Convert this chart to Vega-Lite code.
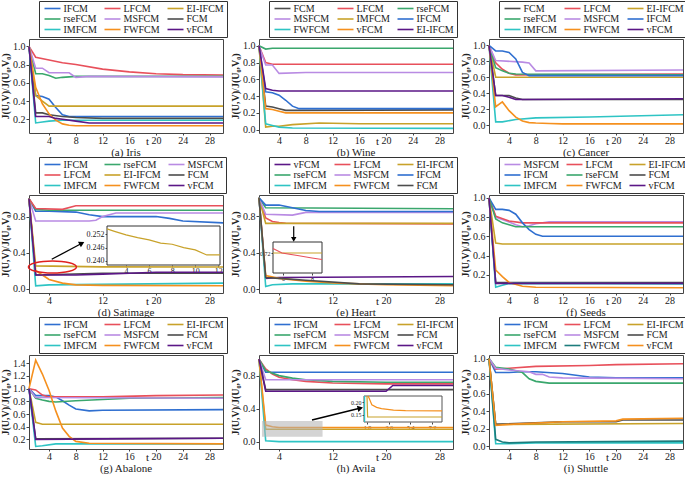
{
"$schema":"https://vega.github.io/schema/vega-lite/v6.json",
"padding":{"left":0,"top":0,"right":0,"bottom":0},
"autosize":{"type":"pad"},
"bounds":"flush",
"config":{
 "font":"Liberation Serif",
 "view":{"stroke":"#444","strokeWidth":1},
 "axis":{"grid":false,"domain":false,"tickSize":3,"tickColor":"#444","labelFont":"Liberation Serif","titleFont":"Liberation Serif","labelFontSize":10,"labelColor":"#222","labelPadding":1,"titleColor":"#222"},
 "axisY":{"titleFontSize":10,"titleFontWeight":"bold","titlePadding":2,"format":".1f"},
 "axisX":{"titleFontSize":11,"titleFontWeight":"normal","titleBaseline":"top","titleY":2,"titleX":118,"titleAlign":"center","labelPadding":0,"tickSize":2},
 "legend":{"orient":"none","legendX":10,"legendY":-38,"columns":3,"gridAlign":"none","direction":"horizontal","symbolType":"M-0.5,0H3.5","symbolSize":64,"symbolStrokeWidth":2.5,"labelFont":"Liberation Serif","labelFontSize":10,"labelColor":"#222","rowPadding":0.5,"columnPadding":3,"padding":2.5,"strokeColor":"#333","fillColor":"white","title":null,"labelLimit":80,"labelOffset":12},
 "title":{"font":"Liberation Serif","fontSize":11,"fontWeight":"normal","offset":1,"color":"#222"},
 "line":{"strokeWidth":1.6,"clip":true}
},
"resolve":{"scale":{"color":"independent","x":"independent","y":"independent"},"legend":{"color":"independent"}},
"columns":3,
"spacing":{"row":62,"column":36},
"datasets":{
"iris":[
{"s":"IFCM","t":1,"v":1},{"s":"IFCM","t":2,"v":0.46},{"s":"IFCM","t":3,"v":0.45},{"s":"IFCM","t":4,"v":0.42},{"s":"IFCM","t":5,"v":0.33},{"s":"IFCM","t":6,"v":0.25},{"s":"IFCM","t":7,"v":0.23},{"s":"IFCM","t":30,"v":0.23},
{"s":"LFCM","t":1,"v":1},{"s":"LFCM","t":2,"v":0.88},{"s":"LFCM","t":4,"v":0.85},{"s":"LFCM","t":6,"v":0.82},{"s":"LFCM","t":8,"v":0.8},{"s":"LFCM","t":12,"v":0.75},{"s":"LFCM","t":16,"v":0.72},{"s":"LFCM","t":20,"v":0.7},{"s":"LFCM","t":24,"v":0.69},{"s":"LFCM","t":30,"v":0.685},
{"s":"EI-IFCM","t":1,"v":1},{"s":"EI-IFCM","t":2,"v":0.46},{"s":"EI-IFCM","t":3,"v":0.4},{"s":"EI-IFCM","t":4,"v":0.345},{"s":"EI-IFCM","t":30,"v":0.345},
{"s":"rseFCM","t":1,"v":1},{"s":"rseFCM","t":2,"v":0.7},{"s":"rseFCM","t":3,"v":0.7},{"s":"rseFCM","t":4,"v":0.68},{"s":"rseFCM","t":5,"v":0.65},{"s":"rseFCM","t":6,"v":0.66},{"s":"rseFCM","t":8,"v":0.67},{"s":"rseFCM","t":30,"v":0.67},
{"s":"MSFCM","t":1,"v":1},{"s":"MSFCM","t":2,"v":0.76},{"s":"MSFCM","t":3,"v":0.76},{"s":"MSFCM","t":4,"v":0.71},{"s":"MSFCM","t":7,"v":0.71},{"s":"MSFCM","t":8,"v":0.66},{"s":"MSFCM","t":10,"v":0.67},{"s":"MSFCM","t":30,"v":0.665},
{"s":"FCM","t":1,"v":1},{"s":"FCM","t":2,"v":0.27},{"s":"FCM","t":3,"v":0.27},{"s":"FCM","t":4,"v":0.25},{"s":"FCM","t":6,"v":0.23},{"s":"FCM","t":8,"v":0.22},{"s":"FCM","t":12,"v":0.21},{"s":"FCM","t":30,"v":0.21},
{"s":"IMFCM","t":1,"v":1},{"s":"IMFCM","t":2,"v":0.16},{"s":"IMFCM","t":3,"v":0.17},{"s":"IMFCM","t":4,"v":0.18},{"s":"IMFCM","t":6,"v":0.19},{"s":"IMFCM","t":30,"v":0.19},
{"s":"FWFCM","t":1,"v":1},{"s":"FWFCM","t":2,"v":0.55},{"s":"FWFCM","t":3,"v":0.37},{"s":"FWFCM","t":4,"v":0.26},{"s":"FWFCM","t":5,"v":0.19},{"s":"FWFCM","t":6,"v":0.15},{"s":"FWFCM","t":7,"v":0.135},{"s":"FWFCM","t":8,"v":0.13},{"s":"FWFCM","t":30,"v":0.13},
{"s":"vFCM","t":1,"v":1},{"s":"vFCM","t":2,"v":0.23},{"s":"vFCM","t":4,"v":0.23},{"s":"vFCM","t":5,"v":0.21},{"s":"vFCM","t":6,"v":0.2},{"s":"vFCM","t":8,"v":0.18},{"s":"vFCM","t":10,"v":0.16},{"s":"vFCM","t":30,"v":0.16}
],
"wine":[
{"s":"FCM","t":1,"v":1},{"s":"FCM","t":2,"v":0.28},{"s":"FCM","t":3,"v":0.27},{"s":"FCM","t":4,"v":0.25},{"s":"FCM","t":5,"v":0.23},{"s":"FCM","t":6,"v":0.23},{"s":"FCM","t":30,"v":0.235},
{"s":"LFCM","t":1,"v":1},{"s":"LFCM","t":2,"v":0.8},{"s":"LFCM","t":3,"v":0.78},{"s":"LFCM","t":30,"v":0.78},
{"s":"rseFCM","t":1,"v":1},{"s":"rseFCM","t":2,"v":0.96},{"s":"rseFCM","t":3,"v":0.97},{"s":"rseFCM","t":30,"v":0.97},
{"s":"MSFCM","t":1,"v":1},{"s":"MSFCM","t":2,"v":0.77},{"s":"MSFCM","t":3,"v":0.77},{"s":"MSFCM","t":4,"v":0.67},{"s":"MSFCM","t":8,"v":0.68},{"s":"MSFCM","t":30,"v":0.68},
{"s":"IMFCM","t":1,"v":1},{"s":"IMFCM","t":2,"v":0.03},{"s":"IMFCM","t":3,"v":0.04},{"s":"IMFCM","t":4,"v":0.04},{"s":"IMFCM","t":6,"v":0.06},{"s":"IMFCM","t":10,"v":0.08},{"s":"IMFCM","t":16,"v":0.07},{"s":"IMFCM","t":30,"v":0.07},
{"s":"IFCM","t":1,"v":1},{"s":"IFCM","t":2,"v":0.45},{"s":"IFCM","t":3,"v":0.44},{"s":"IFCM","t":4,"v":0.41},{"s":"IFCM","t":5,"v":0.35},{"s":"IFCM","t":6,"v":0.28},{"s":"IFCM","t":7,"v":0.25},{"s":"IFCM","t":30,"v":0.25},
{"s":"FWFCM","t":1,"v":1},{"s":"FWFCM","t":2,"v":0.07},{"s":"FWFCM","t":3,"v":0.05},{"s":"FWFCM","t":4,"v":0.03},{"s":"FWFCM","t":6,"v":0.02},{"s":"FWFCM","t":30,"v":0.015},
{"s":"vFCM","t":1,"v":1},{"s":"vFCM","t":2,"v":0.25},{"s":"vFCM","t":3,"v":0.24},{"s":"vFCM","t":4,"v":0.22},{"s":"vFCM","t":5,"v":0.2},{"s":"vFCM","t":30,"v":0.2},
{"s":"EI-IFCM","t":1,"v":1},{"s":"EI-IFCM","t":2,"v":0.49},{"s":"EI-IFCM","t":3,"v":0.47},{"s":"EI-IFCM","t":4,"v":0.46},{"s":"EI-IFCM","t":30,"v":0.46}
],
"cancer":[
{"s":"FCM","t":1,"v":1},{"s":"FCM","t":2,"v":0.37},{"s":"FCM","t":4,"v":0.37},{"s":"FCM","t":5,"v":0.34},{"s":"FCM","t":6,"v":0.32},{"s":"FCM","t":30,"v":0.32},
{"s":"LFCM","t":1,"v":1},{"s":"LFCM","t":2,"v":0.78},{"s":"LFCM","t":3,"v":0.7},{"s":"LFCM","t":4,"v":0.65},{"s":"LFCM","t":5,"v":0.63},{"s":"LFCM","t":30,"v":0.64},
{"s":"EI-IFCM","t":1,"v":1},{"s":"EI-IFCM","t":2,"v":0.6},{"s":"EI-IFCM","t":30,"v":0.6},
{"s":"rseFCM","t":1,"v":1},{"s":"rseFCM","t":2,"v":0.72},{"s":"rseFCM","t":3,"v":0.68},{"s":"rseFCM","t":4,"v":0.65},{"s":"rseFCM","t":5,"v":0.64},{"s":"rseFCM","t":30,"v":0.63},
{"s":"MSFCM","t":1,"v":1},{"s":"MSFCM","t":2,"v":0.81},{"s":"MSFCM","t":6,"v":0.79},{"s":"MSFCM","t":7,"v":0.78},{"s":"MSFCM","t":8,"v":0.68},{"s":"MSFCM","t":30,"v":0.69},
{"s":"IFCM","t":1,"v":1},{"s":"IFCM","t":2,"v":0.93},{"s":"IFCM","t":3,"v":0.93},{"s":"IFCM","t":4,"v":0.91},{"s":"IFCM","t":5,"v":0.83},{"s":"IFCM","t":6,"v":0.66},{"s":"IFCM","t":7,"v":0.62},{"s":"IFCM","t":30,"v":0.62},
{"s":"IMFCM","t":1,"v":1},{"s":"IMFCM","t":2,"v":0.04},{"s":"IMFCM","t":3,"v":0.04},{"s":"IMFCM","t":5,"v":0.07},{"s":"IMFCM","t":8,"v":0.09},{"s":"IMFCM","t":16,"v":0.1},{"s":"IMFCM","t":30,"v":0.13},
{"s":"FWFCM","t":1,"v":1},{"s":"FWFCM","t":2,"v":0.23},{"s":"FWFCM","t":3,"v":0.29},{"s":"FWFCM","t":4,"v":0.18},{"s":"FWFCM","t":5,"v":0.1},{"s":"FWFCM","t":6,"v":0.05},{"s":"FWFCM","t":7,"v":0.03},{"s":"FWFCM","t":8,"v":0.025},{"s":"FWFCM","t":10,"v":0.02},{"s":"FWFCM","t":12,"v":0.015},{"s":"FWFCM","t":30,"v":0.015},
{"s":"vFCM","t":1,"v":1},{"s":"vFCM","t":2,"v":0.37},{"s":"vFCM","t":3,"v":0.37},{"s":"vFCM","t":4,"v":0.35},{"s":"vFCM","t":5,"v":0.32},{"s":"vFCM","t":6,"v":0.32},{"s":"vFCM","t":30,"v":0.33}
],
"satimage":[
{"s":"IFCM","t":1,"v":1},{"s":"IFCM","t":2,"v":0.86},{"s":"IFCM","t":4,"v":0.86},{"s":"IFCM","t":8,"v":0.85},{"s":"IFCM","t":10,"v":0.82},{"s":"IFCM","t":12,"v":0.8},{"s":"IFCM","t":20,"v":0.8},{"s":"IFCM","t":22,"v":0.78},{"s":"IFCM","t":24,"v":0.75},{"s":"IFCM","t":30,"v":0.73},
{"s":"rseFCM","t":1,"v":1},{"s":"rseFCM","t":2,"v":0.88},{"s":"rseFCM","t":4,"v":0.87},{"s":"rseFCM","t":30,"v":0.87},
{"s":"MSFCM","t":1,"v":1},{"s":"MSFCM","t":2,"v":0.75},{"s":"MSFCM","t":10,"v":0.75},{"s":"MSFCM","t":11,"v":0.76},{"s":"MSFCM","t":12,"v":0.8},{"s":"MSFCM","t":14,"v":0.84},{"s":"MSFCM","t":30,"v":0.84},
{"s":"LFCM","t":1,"v":1},{"s":"LFCM","t":2,"v":0.89},{"s":"LFCM","t":6,"v":0.88},{"s":"LFCM","t":8,"v":0.92},{"s":"LFCM","t":30,"v":0.92},
{"s":"EI-IFCM","t":1,"v":1},{"s":"EI-IFCM","t":2,"v":0.252},{"s":"EI-IFCM","t":12,"v":0.241},{"s":"EI-IFCM","t":30,"v":0.24},
{"s":"FCM","t":1,"v":1},{"s":"FCM","t":2,"v":0.15},{"s":"FCM","t":12,"v":0.17},{"s":"FCM","t":30,"v":0.17},
{"s":"IMFCM","t":1,"v":1},{"s":"IMFCM","t":2,"v":0.03},{"s":"IMFCM","t":4,"v":0.04},{"s":"IMFCM","t":30,"v":0.06},
{"s":"FWFCM","t":1,"v":1},{"s":"FWFCM","t":2,"v":0.2},{"s":"FWFCM","t":3,"v":0.15},{"s":"FWFCM","t":4,"v":0.1},{"s":"FWFCM","t":6,"v":0.06},{"s":"FWFCM","t":8,"v":0.04},{"s":"FWFCM","t":12,"v":0.035},{"s":"FWFCM","t":30,"v":0.03},
{"s":"vFCM","t":1,"v":1},{"s":"vFCM","t":2,"v":0.15},{"s":"vFCM","t":8,"v":0.15},{"s":"vFCM","t":12,"v":0.16},{"s":"vFCM","t":16,"v":0.17},{"s":"vFCM","t":20,"v":0.18},{"s":"vFCM","t":30,"v":0.18}
],
"satInset":[
{"t":2.35,"v":0.2544},{"t":3,"v":0.2533},{"t":4,"v":0.2517},{"t":5,"v":0.2505},{"t":6,"v":0.2495},{"t":7,"v":0.248},{"t":8,"v":0.2475},{"t":9,"v":0.246},{"t":10,"v":0.245},{"t":11,"v":0.2427},{"t":12.15,"v":0.2427}
],
"heart":[
{"s":"vFCM","t":1,"v":1},{"s":"vFCM","t":2,"v":0.12},{"s":"vFCM","t":4,"v":0.13},{"s":"vFCM","t":30,"v":0.14},
{"s":"LFCM","t":1,"v":1},{"s":"LFCM","t":2,"v":0.78},{"s":"LFCM","t":3,"v":0.74},{"s":"LFCM","t":4,"v":0.73},{"s":"LFCM","t":5,"v":0.722},{"s":"LFCM","t":30,"v":0.715},
{"s":"EI-IFCM","t":1,"v":1},{"s":"EI-IFCM","t":2,"v":0.72},{"s":"EI-IFCM","t":30,"v":0.72},
{"s":"rseFCM","t":1,"v":1},{"s":"rseFCM","t":2,"v":0.89},{"s":"rseFCM","t":30,"v":0.88},
{"s":"MSFCM","t":1,"v":1},{"s":"MSFCM","t":2,"v":0.82},{"s":"MSFCM","t":6,"v":0.81},{"s":"MSFCM","t":8,"v":0.84},{"s":"MSFCM","t":30,"v":0.84},
{"s":"IFCM","t":1,"v":1},{"s":"IFCM","t":2,"v":0.92},{"s":"IFCM","t":4,"v":0.92},{"s":"IFCM","t":6,"v":0.89},{"s":"IFCM","t":8,"v":0.86},{"s":"IFCM","t":10,"v":0.85},{"s":"IFCM","t":30,"v":0.85},
{"s":"IMFCM","t":1,"v":1},{"s":"IMFCM","t":2,"v":0.03},{"s":"IMFCM","t":3,"v":0.05},{"s":"IMFCM","t":6,"v":0.06},{"s":"IMFCM","t":30,"v":0.06},
{"s":"FWFCM","t":1,"v":1},{"s":"FWFCM","t":2,"v":0.15},{"s":"FWFCM","t":4,"v":0.12},{"s":"FWFCM","t":8,"v":0.09},{"s":"FWFCM","t":12,"v":0.07},{"s":"FWFCM","t":16,"v":0.06},{"s":"FWFCM","t":20,"v":0.05},{"s":"FWFCM","t":30,"v":0.04},
{"s":"FCM","t":1,"v":1},{"s":"FCM","t":2,"v":0.13},{"s":"FCM","t":4,"v":0.12},{"s":"FCM","t":8,"v":0.1},{"s":"FCM","t":16,"v":0.06},{"s":"FCM","t":30,"v":0.05}
],
"heartInset":[
{"s":"EI-IFCM","t":5.31,"v":0.72},{"s":"EI-IFCM","t":8.69,"v":0.72},
{"s":"LFCM","t":5.31,"v":0.7245},{"s":"LFCM","t":5.93,"v":0.72},{"s":"LFCM","t":7,"v":0.7175},{"s":"LFCM","t":8,"v":0.715},{"s":"LFCM","t":8.69,"v":0.7135}
],
"seeds":[
{"s":"MSFCM","t":1,"v":1},{"s":"MSFCM","t":2,"v":0.8},{"s":"MSFCM","t":4,"v":0.75},{"s":"MSFCM","t":5,"v":0.72},{"s":"MSFCM","t":6,"v":0.7},{"s":"MSFCM","t":7,"v":0.71},{"s":"MSFCM","t":8,"v":0.73},{"s":"MSFCM","t":10,"v":0.75},{"s":"MSFCM","t":30,"v":0.75},
{"s":"LFCM","t":1,"v":1},{"s":"LFCM","t":2,"v":0.81},{"s":"LFCM","t":4,"v":0.76},{"s":"LFCM","t":6,"v":0.74},{"s":"LFCM","t":30,"v":0.74},
{"s":"EI-IFCM","t":1,"v":1},{"s":"EI-IFCM","t":2,"v":0.53},{"s":"EI-IFCM","t":3,"v":0.52},{"s":"EI-IFCM","t":30,"v":0.52},
{"s":"IFCM","t":1,"v":1},{"s":"IFCM","t":2,"v":0.88},{"s":"IFCM","t":3,"v":0.88},{"s":"IFCM","t":4,"v":0.87},{"s":"IFCM","t":5,"v":0.83},{"s":"IFCM","t":6,"v":0.74},{"s":"IFCM","t":7,"v":0.67},{"s":"IFCM","t":8,"v":0.62},{"s":"IFCM","t":9,"v":0.6},{"s":"IFCM","t":30,"v":0.6},
{"s":"rseFCM","t":1,"v":1},{"s":"rseFCM","t":2,"v":0.78},{"s":"rseFCM","t":3,"v":0.74},{"s":"rseFCM","t":4,"v":0.72},{"s":"rseFCM","t":5,"v":0.7},{"s":"rseFCM","t":30,"v":0.7},
{"s":"FCM","t":1,"v":1},{"s":"FCM","t":2,"v":0.12},{"s":"FCM","t":30,"v":0.12},
{"s":"IMFCM","t":1,"v":1},{"s":"IMFCM","t":2,"v":0.07},{"s":"IMFCM","t":3,"v":0.09},{"s":"IMFCM","t":4,"v":0.11},{"s":"IMFCM","t":30,"v":0.105},
{"s":"FWFCM","t":1,"v":1},{"s":"FWFCM","t":2,"v":0.25},{"s":"FWFCM","t":3,"v":0.18},{"s":"FWFCM","t":4,"v":0.12},{"s":"FWFCM","t":6,"v":0.08},{"s":"FWFCM","t":8,"v":0.07},{"s":"FWFCM","t":30,"v":0.065},
{"s":"vFCM","t":1,"v":1},{"s":"vFCM","t":2,"v":0.11},{"s":"vFCM","t":30,"v":0.11}
],
"abalone":[
{"s":"IFCM","t":1,"v":1},{"s":"IFCM","t":2,"v":0.89},{"s":"IFCM","t":4,"v":0.89},{"s":"IFCM","t":5,"v":0.87},{"s":"IFCM","t":6,"v":0.81},{"s":"IFCM","t":7,"v":0.74},{"s":"IFCM","t":8,"v":0.68},{"s":"IFCM","t":10,"v":0.65},{"s":"IFCM","t":12,"v":0.66},{"s":"IFCM","t":30,"v":0.67},
{"s":"LFCM","t":1,"v":1},{"s":"LFCM","t":2,"v":0.98},{"s":"LFCM","t":3,"v":0.9},{"s":"LFCM","t":4,"v":0.87},{"s":"LFCM","t":12,"v":0.87},{"s":"LFCM","t":20,"v":0.89},{"s":"LFCM","t":30,"v":0.9},
{"s":"EI-IFCM","t":1,"v":1},{"s":"EI-IFCM","t":2,"v":0.47},{"s":"EI-IFCM","t":3,"v":0.44},{"s":"EI-IFCM","t":30,"v":0.44},
{"s":"rseFCM","t":1,"v":1},{"s":"rseFCM","t":2,"v":0.85},{"s":"rseFCM","t":3,"v":0.82},{"s":"rseFCM","t":4,"v":0.8},{"s":"rseFCM","t":5,"v":0.79},{"s":"rseFCM","t":8,"v":0.81},{"s":"rseFCM","t":12,"v":0.83},{"s":"rseFCM","t":16,"v":0.85},{"s":"rseFCM","t":30,"v":0.86},
{"s":"MSFCM","t":1,"v":1},{"s":"MSFCM","t":2,"v":0.86},{"s":"MSFCM","t":30,"v":0.85},
{"s":"FCM","t":1,"v":1},{"s":"FCM","t":2,"v":0.21},{"s":"FCM","t":30,"v":0.22},
{"s":"IMFCM","t":1,"v":1},{"s":"IMFCM","t":2,"v":0.09},{"s":"IMFCM","t":3,"v":0.1},{"s":"IMFCM","t":5,"v":0.13},{"s":"IMFCM","t":8,"v":0.13},{"s":"IMFCM","t":30,"v":0.13},
{"s":"FWFCM","t":1,"v":1},{"s":"FWFCM","t":2,"v":1.45},{"s":"FWFCM","t":3,"v":1.23},{"s":"FWFCM","t":4,"v":0.97},{"s":"FWFCM","t":5,"v":0.65},{"s":"FWFCM","t":6,"v":0.38},{"s":"FWFCM","t":7,"v":0.25},{"s":"FWFCM","t":8,"v":0.17},{"s":"FWFCM","t":10,"v":0.14},{"s":"FWFCM","t":30,"v":0.13},
{"s":"vFCM","t":1,"v":1},{"s":"vFCM","t":2,"v":0.2},{"s":"vFCM","t":12,"v":0.21},{"s":"vFCM","t":30,"v":0.22}
],
"avila":[
{"s":"IFCM","t":1,"v":1},{"s":"IFCM","t":2,"v":0.84},{"s":"IFCM","t":30,"v":0.84},
{"s":"LFCM","t":1,"v":1},{"s":"LFCM","t":2,"v":0.88},{"s":"LFCM","t":3,"v":0.82},{"s":"LFCM","t":4,"v":0.78},{"s":"LFCM","t":6,"v":0.75},{"s":"LFCM","t":8,"v":0.73},{"s":"LFCM","t":12,"v":0.71},{"s":"LFCM","t":20,"v":0.7},{"s":"LFCM","t":30,"v":0.7},
{"s":"EI-IFCM","t":1,"v":1},{"s":"EI-IFCM","t":2,"v":0.15},{"s":"EI-IFCM","t":30,"v":0.15},
{"s":"rseFCM","t":1,"v":1},{"s":"rseFCM","t":2,"v":0.86},{"s":"rseFCM","t":4,"v":0.8},{"s":"rseFCM","t":6,"v":0.77},{"s":"rseFCM","t":8,"v":0.75},{"s":"rseFCM","t":12,"v":0.73},{"s":"rseFCM","t":20,"v":0.72},{"s":"rseFCM","t":30,"v":0.72},
{"s":"MSFCM","t":1,"v":1},{"s":"MSFCM","t":2,"v":0.75},{"s":"MSFCM","t":30,"v":0.75},
{"s":"FCM","t":1,"v":1},{"s":"FCM","t":2,"v":0.63},{"s":"FCM","t":30,"v":0.63},
{"s":"IMFCM","t":1,"v":1},{"s":"IMFCM","t":2,"v":0.01},{"s":"IMFCM","t":4,"v":0.0},{"s":"IMFCM","t":30,"v":0.0},
{"s":"FWFCM","t":1,"v":1},{"s":"FWFCM","t":2,"v":0.2},{"s":"FWFCM","t":3,"v":0.18},{"s":"FWFCM","t":4,"v":0.17},{"s":"FWFCM","t":30,"v":0.17},
{"s":"vFCM","t":1,"v":1},{"s":"vFCM","t":2,"v":0.61},{"s":"vFCM","t":20,"v":0.61},{"s":"vFCM","t":21,"v":0.68},{"s":"vFCM","t":30,"v":0.68}
],
"avilaInset":[
{"s":"IMFCM","t":1.6,"v":0.2248},{"s":"IMFCM","t":1.6,"v":0.1224},
{"s":"EI-IFCM","t":1.8,"v":0.2248},{"s":"EI-IFCM","t":1.85,"v":0.142},{"s":"EI-IFCM","t":8.03,"v":0.142},
{"s":"FWFCM","t":1.9,"v":0.2248},{"s":"FWFCM","t":2.2,"v":0.19},{"s":"FWFCM","t":2.6,"v":0.18},{"s":"FWFCM","t":3,"v":0.175},{"s":"FWFCM","t":4,"v":0.169},{"s":"FWFCM","t":5,"v":0.167},{"s":"FWFCM","t":8.03,"v":0.166}
],
"shuttle":[
{"s":"IFCM","t":1,"v":1},{"s":"IFCM","t":2,"v":0.84},{"s":"IFCM","t":4,"v":0.84},{"s":"IFCM","t":6,"v":0.85},{"s":"IFCM","t":8,"v":0.85},{"s":"IFCM","t":12,"v":0.83},{"s":"IFCM","t":14,"v":0.81},{"s":"IFCM","t":16,"v":0.79},{"s":"IFCM","t":20,"v":0.78},{"s":"IFCM","t":30,"v":0.78},
{"s":"LFCM","t":1,"v":1},{"s":"LFCM","t":2,"v":0.88},{"s":"LFCM","t":4,"v":0.89},{"s":"LFCM","t":8,"v":0.91},{"s":"LFCM","t":16,"v":0.92},{"s":"LFCM","t":20,"v":0.93},{"s":"LFCM","t":30,"v":0.94},
{"s":"EI-IFCM","t":1,"v":1},{"s":"EI-IFCM","t":2,"v":0.25},{"s":"EI-IFCM","t":30,"v":0.26},
{"s":"rseFCM","t":1,"v":1},{"s":"rseFCM","t":2,"v":0.9},{"s":"rseFCM","t":4,"v":0.88},{"s":"rseFCM","t":6,"v":0.84},{"s":"rseFCM","t":7,"v":0.77},{"s":"rseFCM","t":8,"v":0.74},{"s":"rseFCM","t":10,"v":0.72},{"s":"rseFCM","t":30,"v":0.72},
{"s":"MSFCM","t":1,"v":1},{"s":"MSFCM","t":2,"v":0.89},{"s":"MSFCM","t":4,"v":0.87},{"s":"MSFCM","t":7,"v":0.85},{"s":"MSFCM","t":8,"v":0.82},{"s":"MSFCM","t":9,"v":0.82},{"s":"MSFCM","t":10,"v":0.79},{"s":"MSFCM","t":12,"v":0.78},{"s":"MSFCM","t":30,"v":0.77},
{"s":"FCM","t":1,"v":1},{"s":"FCM","t":2,"v":0.25},{"s":"FCM","t":12,"v":0.28},{"s":"FCM","t":20,"v":0.28},{"s":"FCM","t":21,"v":0.3},{"s":"FCM","t":30,"v":0.3},
{"s":"IMFCM","t":1,"v":1},{"s":"IMFCM","t":2,"v":0.03},{"s":"IMFCM","t":4,"v":0.03},{"s":"IMFCM","t":8,"v":0.04},{"s":"IMFCM","t":30,"v":0.04},
{"s":"FWFCM","t":1,"v":1},{"s":"FWFCM","t":2,"v":0.08},{"s":"FWFCM","t":3,"v":0.05},{"s":"FWFCM","t":4,"v":0.04},{"s":"FWFCM","t":8,"v":0.05},{"s":"FWFCM","t":30,"v":0.06},
{"s":"vFCM","t":1,"v":1},{"s":"vFCM","t":2,"v":0.24},{"s":"vFCM","t":4,"v":0.25},{"s":"vFCM","t":12,"v":0.28},{"s":"vFCM","t":20,"v":0.29},{"s":"vFCM","t":21,"v":0.31},{"s":"vFCM","t":30,"v":0.32}
]
},
"concat":[
{"width":194,"height":94,"data":{"name":"iris"},"title":{"text":"(a) Iris","orient":"bottom"},"mark":"line",
 "encoding":{"x":{"field":"t","type":"quantitative","scale":{"domain":[1,30],"nice":false},"axis":{"values":[4,8,12,16,20,24,28],"title":"t"}},
 "y":{"field":"v","type":"quantitative","scale":{"domain":[0.05,1.08],"nice":false,"zero":false},"axis":{"values":[0.2,0.4,0.6,0.8,1.0],"title":"J(U,V)/J(U₀,V₀)"}},
 "color":{"field":"s","type":"nominal","scale":{"domain":["IFCM","LFCM","EI-IFCM","rseFCM","MSFCM","FCM","IMFCM","FWFCM","vFCM"],"range":["#2f6fd0","#e8505b","#c8a22a","#3aa76d","#b98be3","#4d4d4d","#2ec4c4","#f5901e","#5b1787"]}}}},
{"width":194,"height":94,"data":{"name":"wine"},"title":{"text":"(b) Wine","orient":"bottom"},"mark":"line",
 "encoding":{"x":{"field":"t","type":"quantitative","scale":{"domain":[1,30],"nice":false},"axis":{"values":[4,8,12,16,20,24,28],"title":"t"}},
 "y":{"field":"v","type":"quantitative","scale":{"domain":[-0.04,1.08],"nice":false,"zero":false},"axis":{"values":[0,0.2,0.4,0.6,0.8,1.0],"title":"J(U,V)/J(U₀,V₀)"}},
 "color":{"field":"s","type":"nominal","scale":{"domain":["FCM","LFCM","rseFCM","MSFCM","IMFCM","IFCM","FWFCM","vFCM","EI-IFCM"],"range":["#4d4d4d","#e8505b","#3aa76d","#b98be3","#c8a22a","#2f6fd0","#2ec4c4","#f5901e","#5b1787"]}}}},
{"width":194,"height":94,"data":{"name":"cancer"},"title":{"text":"(c) Cancer","orient":"bottom"},"mark":"line",
 "encoding":{"x":{"field":"t","type":"quantitative","scale":{"domain":[1,30],"nice":false},"axis":{"values":[4,8,12,16,20,24,28],"title":"t"}},
 "y":{"field":"v","type":"quantitative","scale":{"domain":[-0.1,1.08],"nice":false,"zero":false},"axis":{"values":[0,0.2,0.4,0.6,0.8,1.0],"title":"J(U,V)/J(U₀,V₀)"}},
 "color":{"field":"s","type":"nominal","scale":{"domain":["FCM","LFCM","EI-IFCM","rseFCM","MSFCM","IFCM","IMFCM","FWFCM","vFCM"],"range":["#4d4d4d","#e8505b","#c8a22a","#3aa76d","#b98be3","#2f6fd0","#2ec4c4","#f5901e","#5b1787"]}}}},
{"width":194,"height":98,"title":{"text":"(d) Satimage","orient":"bottom"},
 "layer":[
  {"layer":[
   {"data":{"name":"satimage"},"mark":"line",
    "encoding":{"x":{"field":"t","type":"quantitative","scale":{"domain":[1,30],"nice":false},"axis":{"values":[4,8,12,16,20,24,28],"title":"t"}},
    "y":{"field":"v","type":"quantitative","scale":{"domain":[-0.05,1.04],"nice":false,"zero":false},"axis":{"values":[0,0.2,0.4,0.6,0.8,1.0],"title":"J(U,V)/J(U₀,V₀)"}},
    "color":{"field":"s","type":"nominal","scale":{"domain":["IFCM","rseFCM","MSFCM","LFCM","EI-IFCM","FCM","IMFCM","FWFCM","vFCM"],"range":["#2f6fd0","#3aa76d","#b98be3","#e8505b","#c8a22a","#4d4d4d","#2ec4c4","#f5901e","#5b1787"]}}}},
   {"data":{"values":[{"t":4.5,"v":0.24}]},"mark":{"type":"point","shape":"M-1,0A1,0.25,0,1,1,1,0A1,0.25,0,1,1,-1,0","size":2304,"stroke":"#e02020","strokeWidth":1.5,"filled":false,"opacity":1},
    "encoding":{"x":{"field":"t","type":"quantitative"},"y":{"field":"v","type":"quantitative"}}},
   {"data":{"values":[{"t":4.4,"v":0.325,"t2":8.7,"v2":0.495}]},"mark":{"type":"rule","strokeWidth":1.3,"color":"black"},
    "encoding":{"x":{"field":"t","type":"quantitative"},"y":{"field":"v","type":"quantitative"},"x2":{"field":"t2"},"y2":{"field":"v2"}}},
   {"data":{"values":[{"t":8.9,"v":0.503}]},"mark":{"type":"point","shape":"triangle-up","angle":62,"size":40,"filled":true,"color":"black","opacity":1},
    "encoding":{"x":{"field":"t","type":"quantitative"},"y":{"field":"v","type":"quantitative"}}}
  ]},
  {"layer":[
   {"data":{"values":[{}]},"mark":{"type":"rect","fill":"white","stroke":"#333","strokeWidth":1},
    "encoding":{"x":{"datum":2.35,"type":"quantitative","scale":{"domain":[2.35,12.15],"range":[78,191],"nice":false,"zero":false},"axis":{"orient":"bottom","offset":-28,"values":[4,6,8,10,12],"format":"d","tickSize":2,"labelFontSize":8,"title":null}},
    "x2":{"datum":12.15},
    "y":{"datum":0.2382,"type":"quantitative","scale":{"domain":[0.2382,0.2557],"range":[70,31],"nice":false,"zero":false},"axis":{"orient":"left","offset":-78,"values":[0.24,0.246,0.252],"format":".3f","tickSize":2,"labelFontSize":8,"title":null}},
    "y2":{"datum":0.2557}}},
   {"data":{"name":"satInset"},"mark":{"type":"line","color":"#c8a22a","strokeWidth":1.2},
    "encoding":{"x":{"field":"t","type":"quantitative"},"y":{"field":"v","type":"quantitative"}}}
  ]}
 ],
 "resolve":{"scale":{"x":"independent","y":"independent"},"axis":{"x":"independent","y":"independent"}}},
{"width":194,"height":98,"title":{"text":"(e) Heart","orient":"bottom"},
 "layer":[
  {"layer":[
   {"data":{"name":"heart"},"mark":"line",
    "encoding":{"x":{"field":"t","type":"quantitative","scale":{"domain":[1,30],"nice":false},"axis":{"values":[4,8,12,16,20,24,28],"title":"t"}},
    "y":{"field":"v","type":"quantitative","scale":{"domain":[-0.04,1.03],"nice":false,"zero":false},"axis":{"values":[0,0.2,0.4,0.6,0.8,1.0],"title":"J(U,V)/J(U₀,V₀)"}},
    "color":{"field":"s","type":"nominal","scale":{"domain":["vFCM","LFCM","EI-IFCM","rseFCM","MSFCM","IFCM","IMFCM","FWFCM","FCM"],"range":["#5b1787","#e8505b","#c8a22a","#3aa76d","#b98be3","#2f6fd0","#2ec4c4","#f5901e","#4d4d4d"]}}}},
   {"data":{"values":[{"t":6.19,"v":0.69,"t2":6.19,"v2":0.55}]},"mark":{"type":"rule","strokeWidth":1.2,"color":"black"},
    "encoding":{"x":{"field":"t","type":"quantitative"},"y":{"field":"v","type":"quantitative"},"x2":{"field":"t2"},"y2":{"field":"v2"}}},
   {"data":{"values":[{"t":6.19,"v":0.545}]},"mark":{"type":"point","shape":"triangle-down","size":30,"filled":true,"color":"black","opacity":1},
    "encoding":{"x":{"field":"t","type":"quantitative"},"y":{"field":"v","type":"quantitative"}}}
  ]},
  {"layer":[
   {"data":{"values":[{}]},"mark":{"type":"rect","fill":"white","stroke":"#333","strokeWidth":1},
    "encoding":{"x":{"datum":5.31,"type":"quantitative","scale":{"domain":[5.31,8.69],"range":[14,63],"nice":false,"zero":false},"axis":{"orient":"bottom","offset":-20,"values":[6,8],"format":"d","tickSize":2,"labelFontSize":6,"title":null}},
    "x2":{"datum":8.69},
    "y":{"datum":0.7,"type":"quantitative","scale":{"domain":[0.7,0.731],"range":[78,47],"nice":false,"zero":false},"axis":{"orient":"left","offset":-14,"values":[0.72],"format":".2f","tickSize":2,"labelFontSize":6,"title":null}},
    "y2":{"datum":0.731}}},
   {"data":{"name":"heartInset"},"mark":{"type":"line","strokeWidth":1.2},
    "encoding":{"x":{"field":"t","type":"quantitative"},"y":{"field":"v","type":"quantitative"},"color":{"field":"s","type":"nominal","scale":{"domain":["EI-IFCM","LFCM"],"range":["#c8a22a","#e8505b"]},"legend":null}}}
  ]}
 ],
 "resolve":{"scale":{"x":"independent","y":"independent","color":"independent"},"axis":{"x":"independent","y":"independent"}}},
{"width":194,"height":98,"data":{"name":"seeds"},"title":{"text":"(f) Seeds","orient":"bottom"},"mark":"line",
 "encoding":{"x":{"field":"t","type":"quantitative","scale":{"domain":[1,30],"nice":false},"axis":{"values":[4,8,12,16,20,24,28],"title":"t"}},
 "y":{"field":"v","type":"quantitative","scale":{"domain":[0.01,1.03],"nice":false,"zero":false},"axis":{"values":[0.2,0.4,0.6,0.8,1.0],"title":"J(U,V)/J(U₀,V₀)"}},
 "color":{"field":"s","type":"nominal","scale":{"domain":["MSFCM","LFCM","EI-IFCM","IFCM","rseFCM","FCM","IMFCM","FWFCM","vFCM"],"range":["#b98be3","#e8505b","#c8a22a","#2f6fd0","#3aa76d","#4d4d4d","#2ec4c4","#f5901e","#5b1787"]}}}},
{"width":194,"height":94,"data":{"name":"abalone"},"title":{"text":"(g) Abalone","orient":"bottom"},"mark":"line",
 "encoding":{"x":{"field":"t","type":"quantitative","scale":{"domain":[1,30],"nice":false},"axis":{"values":[4,8,12,16,20,24,28],"title":"t"}},
 "y":{"field":"v","type":"quantitative","scale":{"domain":[0.05,1.53],"nice":false,"zero":false},"axis":{"values":[0.2,0.4,0.6,0.8,1.0,1.2,1.4],"title":"J(U,V)/J(U₀,V₀)"}},
 "color":{"field":"s","type":"nominal","scale":{"domain":["IFCM","LFCM","EI-IFCM","rseFCM","MSFCM","FCM","IMFCM","FWFCM","vFCM"],"range":["#2f6fd0","#e8505b","#c8a22a","#3aa76d","#b98be3","#4d4d4d","#2ec4c4","#f5901e","#5b1787"]}}}},
{"width":194,"height":94,"title":{"text":"(h) Avila","orient":"bottom"},
 "layer":[
  {"layer":[
   {"data":{"name":"avila"},"mark":"line",
    "encoding":{"x":{"field":"t","type":"quantitative","scale":{"domain":[1,30],"nice":false},"axis":{"values":[4,8,12,16,20,24,28],"title":"t"}},
    "y":{"field":"v","type":"quantitative","scale":{"domain":[-0.09,1.05],"nice":false,"zero":false},"axis":{"values":[0,0.2,0.4,0.6,0.8,1.0],"title":"J(U,V)/J(U₀,V₀)"}},
    "color":{"field":"s","type":"nominal","scale":{"domain":["IFCM","LFCM","EI-IFCM","rseFCM","MSFCM","FCM","IMFCM","FWFCM","vFCM"],"range":["#2f6fd0","#e8505b","#c8a22a","#3aa76d","#b98be3","#4d4d4d","#2ec4c4","#f5901e","#5b1787"]}}}},
   {"data":{"values":[{"t":1.44,"v":0.06,"t2":10.5,"v2":0.25}]},"mark":{"type":"rect","color":"#b0b0b0","opacity":0.55},
    "encoding":{"x":{"field":"t","type":"quantitative"},"y":{"field":"v","type":"quantitative"},"x2":{"field":"t2"},"y2":{"field":"v2"}}},
   {"data":{"values":[{"t":8.92,"v":0.262,"t2":15.9,"v2":0.4}]},"mark":{"type":"rule","strokeWidth":1.5,"color":"black"},
    "encoding":{"x":{"field":"t","type":"quantitative"},"y":{"field":"v","type":"quantitative"},"x2":{"field":"t2"},"y2":{"field":"v2"}}},
   {"data":{"values":[{"t":16.14,"v":0.404}]},"mark":{"type":"point","shape":"triangle-up","angle":76,"size":40,"filled":true,"color":"black","opacity":1},
    "encoding":{"x":{"field":"t","type":"quantitative"},"y":{"field":"v","type":"quantitative"}}}
  ]},
  {"layer":[
   {"data":{"values":[{}]},"mark":{"type":"rect","fill":"white","stroke":"#555","strokeWidth":1},
    "encoding":{"x":{"datum":1.55,"type":"quantitative","scale":{"domain":[1.55,8.03],"range":[105,183],"nice":false,"zero":false},"axis":{"orient":"bottom","offset":-27,"values":[1.8,3.6,5.4,7.2],"format":".1f","tickSize":2,"labelFontSize":6,"title":null}},
    "x2":{"datum":8.03},
    "y":{"datum":0.1224,"type":"quantitative","scale":{"domain":[0.1224,0.2248],"range":[67,41],"nice":false,"zero":false},"axis":{"orient":"left","offset":-105,"values":[0.15,0.2],"format":".2f","tickSize":2,"labelFontSize":6,"title":null}},
    "y2":{"datum":0.2248}}},
   {"data":{"name":"avilaInset"},"mark":{"type":"line","strokeWidth":1.2},
    "encoding":{"x":{"field":"t","type":"quantitative"},"y":{"field":"v","type":"quantitative"},"color":{"field":"s","type":"nominal","scale":{"domain":["IMFCM","EI-IFCM","FWFCM"],"range":["#2ec4c4","#c8a22a","#f5901e"]},"legend":null}}}
  ]}
 ],
 "resolve":{"scale":{"x":"independent","y":"independent","color":"independent"},"axis":{"x":"independent","y":"independent"}}},
{"width":194,"height":94,"data":{"name":"shuttle"},"title":{"text":"(i) Shuttle","orient":"bottom"},"mark":"line",
 "encoding":{"x":{"field":"t","type":"quantitative","scale":{"domain":[1,30],"nice":false},"axis":{"values":[4,8,12,16,20,24,28],"title":"t"}},
 "y":{"field":"v","type":"quantitative","scale":{"domain":[-0.03,1.04],"nice":false,"zero":false},"axis":{"values":[0,0.2,0.4,0.6,0.8,1.0],"title":"J(U,V)/J(U₀,V₀)"}},
 "color":{"field":"s","type":"nominal","scale":{"domain":["IFCM","LFCM","EI-IFCM","rseFCM","MSFCM","FCM","IMFCM","FWFCM","vFCM"],"range":["#2f6fd0","#e8505b","#c8a22a","#3aa76d","#b98be3","#4d4d4d","#2ec4c4","#1d7c7c","#f5901e"]}}}}
]
}
